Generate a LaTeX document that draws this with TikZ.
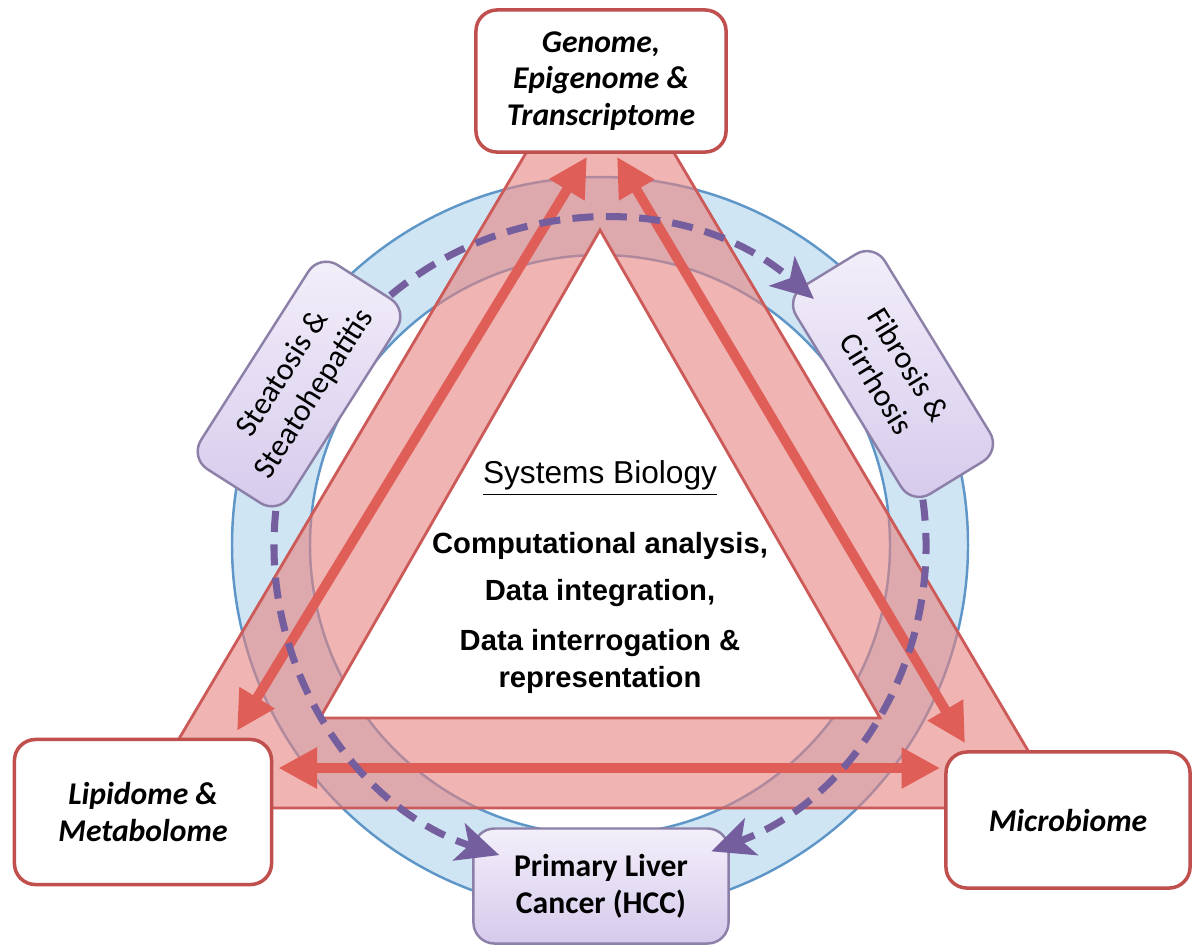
\documentclass[tikz,border=0pt]{standalone}
\usepackage{fontspec}
\setmainfont{Carlito}
\newfontfamily\arialfont{Liberation Sans}
\usetikzlibrary{calc}
\usetikzlibrary{arrows.meta}

\definecolor{boxred}{RGB}{192,80,77}
\definecolor{arrred}{RGB}{224,94,88}
\definecolor{bandfill}{RGB}{230,130,127}
\definecolor{bandline}{RGB}{204,90,88}
\definecolor{ringfill}{RGB}{208,229,244}
\definecolor{ringline}{RGB}{95,150,200}
\definecolor{stagetop}{RGB}{243,239,250}
\definecolor{stagebot}{RGB}{214,202,236}
\definecolor{stageline}{RGB}{140,128,168}
\definecolor{flowpurple}{RGB}{116,94,158}

\tikzset{
 omicbox/.style={draw=boxred, line width=1pt, fill=white, rounded corners=6pt, align=center, inner sep=2pt, font=\fontsize{9}{10.3}\selectfont\bfseries\itshape},
 stagebox/.style={draw=stageline, line width=0.7pt, top color=stagetop, bottom color=stagebot, rounded corners=6pt, align=center, inner sep=2pt, font=\fontsize{9}{10.6}\selectfont\bfseries},
 tiltbox/.style={stagebox, font=\fontsize{9}{10.6}\selectfont},
 linkarr/.style={arrred, line width=2.8pt, >={Triangle[length=11pt,width=11pt]}, <->},
 flowarr/.style={flowpurple, line width=2pt, dash pattern=on 6pt off 3.5pt, >={Stealth[length=12pt,width=11pt,inset=3pt]}, ->},
}

\begin{document}
\begin{tikzpicture}[x=0.01cm,y=-0.01cm]
\useasboundingbox (0,0) rectangle (1192,945);
\coordinate (ring) at (600,545);
% ring
\fill[ringfill, even odd rule] (ring) circle[radius=368] (ring) circle[radius=290];
\draw[ringline, line width=0.7pt] (ring) circle[radius=368] (ring) circle[radius=290];
% triangle band
\fill[bandfill, fill opacity=0.6] (600,28) -- (138,808) -- (1062,808) -- cycle;
\draw[bandline, line width=0.8pt] (600,28) -- (138,808) -- (1062,808) -- cycle;
\filldraw[fill=white, draw=bandline, line width=0.8pt] (600,230) -- (320,718) -- (880,718) -- cycle;
% boxes
\node[omicbox, minimum width=2.5cm, minimum height=1.42cm] (gen) at (601,81) {Genome,\\Epigenome \&\\Transcriptome};
\node[omicbox, minimum width=2.57cm, minimum height=1.45cm] (lip) at (143,812) {Lipidome \&\\Metabolome};
\node[omicbox, minimum width=2.44cm, minimum height=1.36cm] (mic) at (1068,820) {Microbiome};
\node[stagebox, minimum width=2.55cm, minimum height=1.15cm] (hcc) at (601,886) {Primary Liver\\Cancer (HCC)};
\node[tiltbox, rotate=57.5, minimum width=2.42cm, minimum height=1.05cm] (ste) at (299,384) {Steatosis \&\\Steatohepatitis};
\node[tiltbox, rotate=-58.5, minimum width=2.43cm, minimum height=1.04cm] (fib) at (893,374) {Fibrosis \&\\Cirrhosis};
% links between omics
\draw[linkarr] ($(gen.south)+(-14,3)$) -- ($(lip.north)+(94,-7)$);
\draw[linkarr] ($(gen.south)+(16,3)$) -- ($(mic.north)+(-103,-7)$);
\draw[linkarr] ($(lip.east)+(5,-44)$) -- ($(mic.west)+(-4,-52)$);
% centre text
\node[anchor=base, inner sep=0pt, font=\arialfont\fontsize{9}{10.5}\selectfont] (sb) at (600,483) {\underline{Systems Biology}};
\node[anchor=north, inner sep=0pt, align=center, font=\arialfont\bfseries\fontsize{8.3}{10.5}\selectfont] (sbtext) at (600,532)
  {Computational analysis,\\[2.8pt] Data integration,\\[3.7pt] Data interrogation \&\\ representation};
% disease progression
\draw[flowarr] ($(ring)+(-130:326)$) arc[start angle=-130, end angle=-49, radius=326];
\draw[flowarr] ($(ring)+(-8:326)$) arc[start angle=-8, end angle=70, radius=326];
\draw[flowarr] ($(ring)+(186:326)$) arc[start angle=186, end angle=108, radius=326];
\end{tikzpicture}
\end{document}
